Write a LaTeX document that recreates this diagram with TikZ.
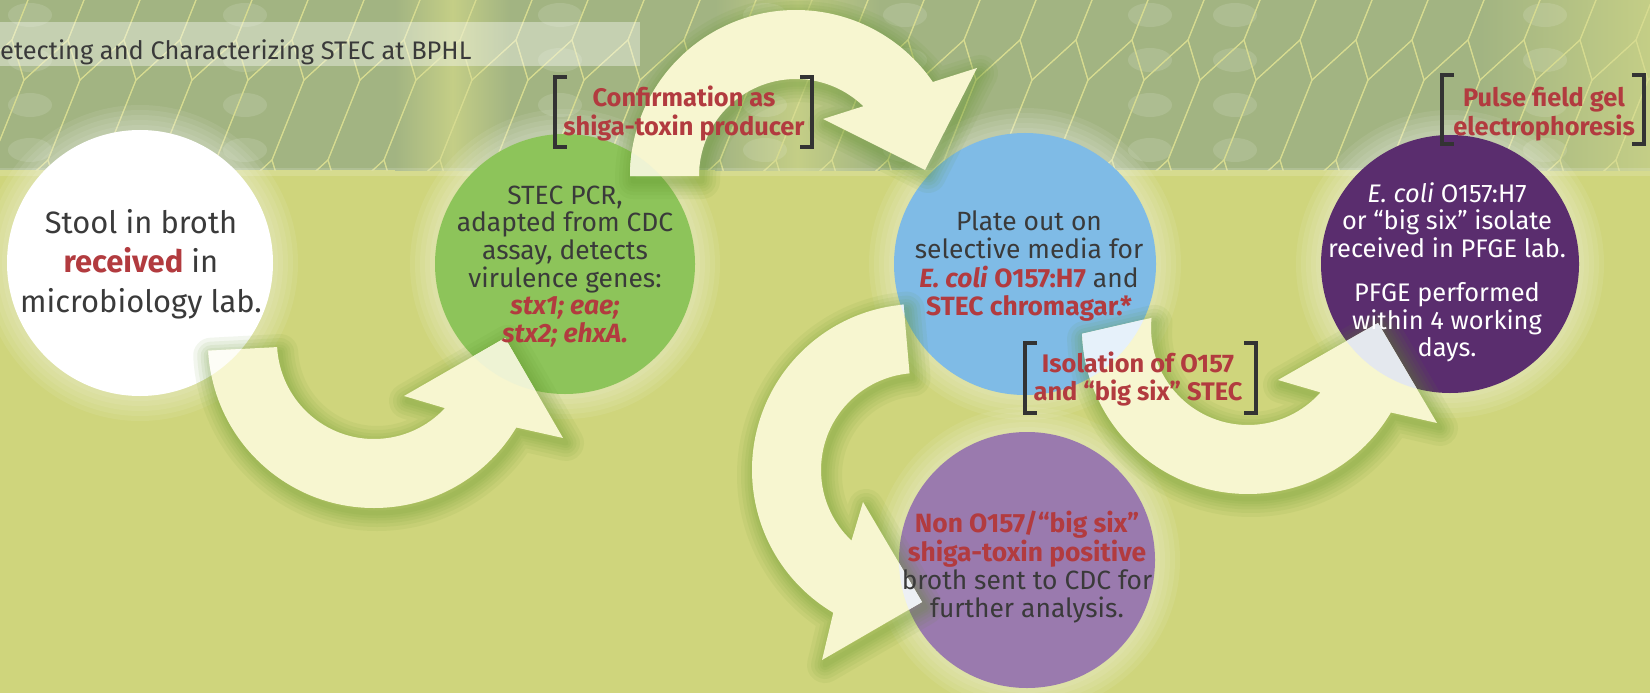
\documentclass[tikz,border=0pt]{standalone}
\usepackage{fontspec}
\setmainfont{Fira Sans}
\definecolor{bgl}{HTML}{CFD57C}
\definecolor{band}{HTML}{A2B482}
\definecolor{bandlt}{HTML}{C4CE86}
\definecolor{hexc}{HTML}{D6DB90}
\definecolor{cream}{HTML}{F7F6D0}
\definecolor{shg}{HTML}{5F9228}
\definecolor{cgreen}{HTML}{8DC45A}
\definecolor{cblue}{HTML}{7FBBE6}
\definecolor{cdpur}{HTML}{5A2D6E}
\definecolor{clpur}{HTML}{9A7AAE}
\definecolor{tred}{HTML}{B23B3F}
\definecolor{tgray}{HTML}{3A3A3A}
\definecolor{brk}{HTML}{333333}
\definecolor{hlwhite}{HTML}{FDFDF6}
\definecolor{hlgreen}{HTML}{EEF3D4}
\definecolor{hlblue}{HTML}{E6F1FA}
\definecolor{hldpur}{HTML}{E4E8EE}
\definecolor{hllpur}{HTML}{EDF0F4}
\newcommand\linesc[1]{\begin{tabular}[t]{@{}c@{}}#1\end{tabular}}
\newcommand\redb[1]{\textcolor{tred}{\bfseries #1}}
\newcommand\redbi[1]{\textcolor{tred}{\bfseries\itshape #1}}
\def\arrA{([shift={(177:166)}]374,342) arc[start angle=177,end angle=31,radius=166] -- (563,438) -- (505,338) -- (404,396) -- ([shift={(43:97)}]374,342) arc[start angle=43,end angle=177,radius=97] -- cycle}
\def\arrB{([shift={(180:166)}]796,176) arc[start angle=180,end angle=325.5,radius=166] -- (977,68) -- (925,170) -- (823,119) -- ([shift={(314:97)}]796,176) arc[start angle=314,end angle=180,radius=97] -- cycle}
\def\arrC{([shift={(265:166)}]918,470) arc[start angle=265,end angle=120.7,radius=166] -- (822,660) -- (922,602) -- (863,502) -- ([shift={(133.3:97)}]918,470) arc[start angle=133.3,end angle=265,radius=97] -- cycle}
\def\arrD{([shift={(178:166)}]1248,328) arc[start angle=178,end angle=30.6,radius=166] -- (1437,423) -- (1378,323) -- (1278,380) -- ([shift={(41.6:97)}]1248,328) arc[start angle=41.6,end angle=186,radius=97] -- cycle}
\begin{document}
\begin{tikzpicture}[x=1bp,y=-1bp,
  circ/.style={circle,inner sep=0pt,draw=none},
  txt/.style={anchor=base,inner sep=0pt,text=tgray},
  lab/.style={anchor=base,inner sep=0pt,text=tred,font=\fontsize{25.5}{26}\selectfont\bfseries},
  brkline/.style={draw=brk,line width=4bp,line join=miter},
  arrfill/.style={fill=cream},
  shadowline/.style={draw=shg,draw opacity=0.08,line join=round}]
\useasboundingbox (0,0) rectangle (1650,693);
% background
\fill[bgl] (0,0) rectangle (1650,693);
\fill[band] (0,0) rectangle (1650,170);
\shade[left color=band,right color=band,middle color=bandlt] (395,0) rectangle (510,170);
\shade[left color=band,right color=band,middle color=bandlt] (715,0) rectangle (880,170);
\shade[left color=band,right color=bandlt] (1480,0) rectangle (1650,170);
\foreach \x in {30,245,560,765,905,1150,1235,1545}
  \foreach \y in {15,60,105,150}
    \fill[white,opacity=0.12] (\x,\y) ellipse[x radius=22,y radius=12];
\begin{scope}
  \clip (0,0) rectangle (1650,170);
  \begin{scope}[xslant=0.4]
    \foreach \r in {-1,0,1,2,3}{
      \foreach \c in {-4,...,30}{
        \pgfmathsetmacro\hx{\c*56+mod(\r+2,2)*28}
        \pgfmathsetmacro\hy{\r*120}
        \draw[hexc,line width=1.1bp] (\hx,\hy-80) -- ++(28,40) -- ++(0,80) -- ++(-28,40) -- ++(-28,-40) -- ++(0,-80) -- cycle;
      }}
  \end{scope}
\end{scope}
\fill[white,opacity=0.15] (0,168) rectangle (1650,176);
% title
\fill[white,opacity=0.38] (0,22) rectangle (640,66);
\node[anchor=base west,inner sep=0pt,text=tgray,font=\fontsize{25.5}{30}\selectfont] (title) at (0,60) {etecting and Characterizing STEC at BPHL};
% circle halos
\foreach \cx/\cy/\r in {140/263/133,565/264/130,1025/264/131,1450/264/129,1027/560/128}
  \foreach \k in {5,10,15,20,25}
    \fill[white,opacity=0.08] (\cx,\cy) circle[radius=\r+\k];
% circles
\node[circ,fill=white,minimum size=266bp] (c1) at (140,263) {};
\node[circ,fill=cgreen,minimum size=260bp] (c2) at (565,264) {};
\node[circ,fill=cblue,minimum size=262bp] (c3) at (1025,264) {};
\node[circ,fill=cdpur,minimum size=258bp] (c4) at (1450,264) {};
\node[circ,fill=clpur,minimum size=256bp] (c5) at (1027,560) {};
% arrow shadows
\foreach \w in {36,28,21,15,10,5}{
  \draw[shadowline,line width=\w bp,shift={(3,5)}] \arrA;
  \draw[shadowline,line width=\w bp,shift={(3,5)}] \arrB;
  \draw[shadowline,line width=\w bp,shift={(3,5)}] \arrC;
  \draw[shadowline,line width=\w bp,shift={(3,5)}] \arrD;
}
% arrows
\fill[arrfill] \arrA;
\fill[arrfill] \arrB;
\fill[arrfill] \arrC;
\fill[arrfill] \arrD;
% lighter parts of arrows over circles
\begin{scope}\clip (140,263) circle[radius=133]; \fill[hlwhite] \arrA; \end{scope}
\begin{scope}\clip (565,264) circle[radius=130]; \fill[hlgreen] \arrA; \fill[hlgreen] \arrB; \end{scope}
\begin{scope}\clip (1025,264) circle[radius=131]; \fill[hlblue] \arrB; \fill[hlblue] \arrC; \fill[hlblue] \arrD; \end{scope}
\begin{scope}\clip (1450,264) circle[radius=129]; \fill[hldpur] \arrD; \end{scope}
\begin{scope}\clip (1027,560) circle[radius=128]; \fill[hllpur] \arrC; \end{scope}
% circle texts
\node[txt,font=\fontsize{31}{40}\selectfont] (t1) at (141,233)
  {\linesc{Stool in broth\\\redb{received} in\\microbiology lab.}};
\node[txt,font=\fontsize{26.5}{26.5}\selectfont] (t2) at (565,204)
  {\linesc{STEC PCR,\\adapted from CDC\\assay, detects\\virulence genes:\\\redbi{stx1; eae;}\\\redbi{stx2; ehxA.}}};
\node[txt,font=\fontsize{26.5}{26}\selectfont] (t3) at (1029,230)
  {\linesc{Plate out on\\selective media for\\\redbi{E. coli} \redb{O157:H7} and\\\redb{STEC chromagar.*}}};
\node[txt,text=white,font=\fontsize{25.5}{26.5}\selectfont] (t4) at (1447,202)
  {\linesc{\textit{E. coli} O157:H7\\or “big six” isolate\\received in PFGE lab.\\[17bp]PFGE performed\\within 4 working\\days.}};
\node[txt,font=\fontsize{26.5}{26.7}\selectfont] (t5) at (1027,532)
  {\linesc{\redb{Non O157/“big six”}\\\redb{shiga-toxin positive}\\broth sent to CDC for\\further analysis.}};
% bracketed labels
\node[lab] (l1) at (684,107) {\linesc{Confirmation as\\shiga-toxin producer}};
\draw[brkline] (567,77) -- (555,77) -- (555,147) -- (567,147);
\draw[brkline] (800,77) -- (812,77) -- (812,147) -- (800,147);
\node[lab] (l2) at (1544,107) {\linesc{Pulse field gel\\electrophoresis}};
\draw[brkline] (1454,75) -- (1442,75) -- (1442,144) -- (1454,144);
\draw[brkline] (1632,75) -- (1644,75) -- (1644,144) -- (1632,144);
\node[lab] (l3) at (1138,372) {\linesc{Isolation of O157\\and “big six” STEC}};
\draw[brkline] (1037,343) -- (1025,343) -- (1025,413) -- (1037,413);
\draw[brkline] (1244,343) -- (1256,343) -- (1256,413) -- (1244,413);
\end{tikzpicture}
\end{document}
